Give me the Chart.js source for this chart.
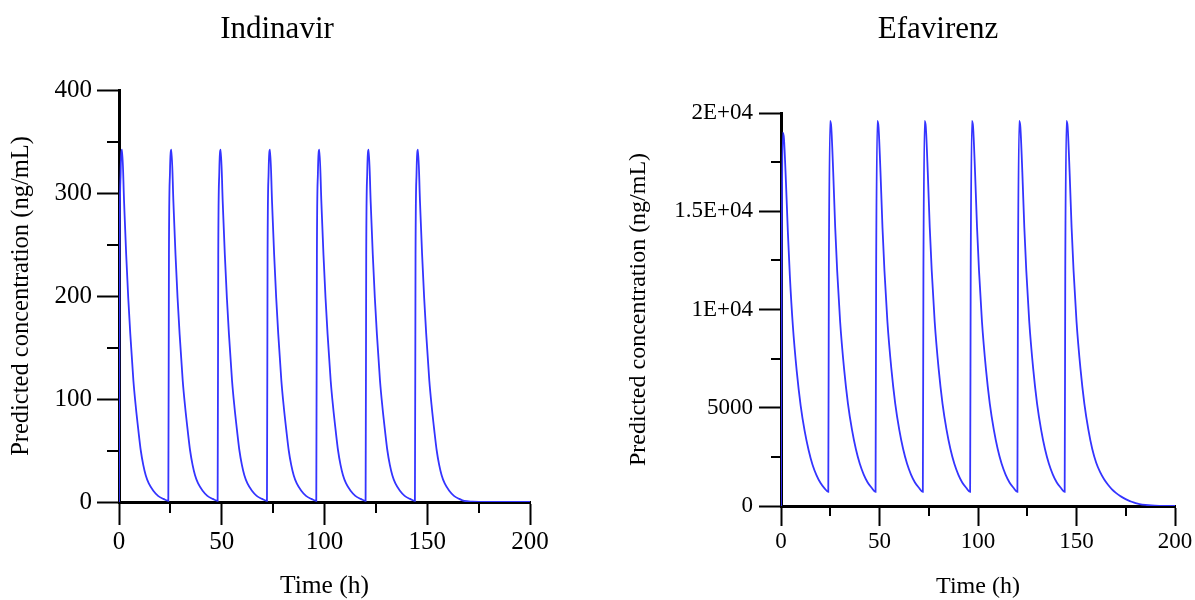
<!DOCTYPE html>
<html>
<head>
<meta charset="utf-8">
<script src="https://cdn.jsdelivr.net/npm/chart.js@4"></script>
<style>
  html, body { margin: 0; padding: 0; background: #fff; overflow: hidden; }
  .panel { position: absolute; top: 0; }
</style>
</head>
<body>
<div class="panel" style="left:0px"><canvas id="indinavir" width="554" height="600"></canvas></div>
<div class="panel" style="left:620px"><canvas id="efavirenz" width="575" height="600"></canvas></div>
<script>
const FONT = "'Liberation Serif', 'Times New Roman', serif";

// time axis (h), shared by both panels
const xTicks = [0, 50, 100, 150, 200];
const xMinor = [25, 75, 125, 175];

// Indinavir (ng/mL)
const indinavirTicks = [0, 100, 200, 300, 400];
const indinavirMinor = [50, 150, 250, 350];
const indinavirTime = [
  0, 0.3, 0.8, 1.5, 2.5, 3.5, 4.5, 5.5, 7, 8.2, 9.4, 10.6, 11.8, 13, 14.5, 16.7, 19, 21.6,
  24, 24.3, 24.8, 25.5, 26.5, 27.5, 28.5, 29.5, 31, 32.2, 33.4, 34.6, 35.8, 37, 38.5, 40.7, 43, 45.6,
  48, 48.3, 48.8, 49.5, 50.5, 51.5, 52.5, 53.5, 55, 56.2, 57.4, 58.6, 59.8, 61, 62.5, 64.7, 67, 69.6,
  72, 72.3, 72.8, 73.5, 74.5, 75.5, 76.5, 77.5, 79, 80.2, 81.4, 82.6, 83.8, 85, 86.5, 88.7, 91, 93.6,
  96, 96.3, 96.8, 97.5, 98.5, 99.5, 100.5, 101.5, 103, 104.2, 105.4, 106.6, 107.8, 109, 110.5, 112.7, 115, 117.6,
  120, 120.3, 120.8, 121.5, 122.5, 123.5, 124.5, 125.5, 127, 128.2, 129.4, 130.6, 131.8, 133, 134.5, 136.7, 139, 141.6,
  144, 144.3, 144.8, 145.5, 146.5, 147.5, 148.5, 149.5, 151, 152.2, 153.4, 154.6, 155.8, 157, 158.5, 160.7, 163, 165.6,
  168, 172, 180, 200
];
const indinavirConc = [
  0, 240, 320, 342, 290, 240, 198, 163, 118, 92, 70, 50, 36, 26, 18, 11, 6, 3,
  1, 240, 320, 342, 290, 240, 198, 163, 118, 92, 70, 50, 36, 26, 18, 11, 6, 3,
  1, 240, 320, 342, 290, 240, 198, 163, 118, 92, 70, 50, 36, 26, 18, 11, 6, 3,
  1, 240, 320, 342, 290, 240, 198, 163, 118, 92, 70, 50, 36, 26, 18, 11, 6, 3,
  1, 240, 320, 342, 290, 240, 198, 163, 118, 92, 70, 50, 36, 26, 18, 11, 6, 3,
  1, 240, 320, 342, 290, 240, 198, 163, 118, 92, 70, 50, 36, 26, 18, 11, 6, 3,
  1, 240, 320, 342, 290, 240, 198, 163, 118, 92, 70, 50, 36, 26, 18, 11, 6, 3,
  1, 0.4, 0.1, 0
];

// Efavirenz (ng/mL)
const efavirenzTicks = [0, 5000, 10000, 15000, 20000];
const efavirenzLabels = ['0', '5000', '1E+04', '1.5E+04', '2E+04'];
const efavirenzMinor = [2500, 7500, 12500, 17500];
const efavirenzTime = [
  0, 0.3, 0.9, 1.5, 2.5, 3.5, 4.5, 6, 8, 10, 12, 14, 16, 18, 20, 22,
  24, 24.3, 24.9, 25.5, 26.5, 27.5, 28.5, 30, 32, 34, 36, 38, 40, 42, 44, 46,
  48, 48.3, 48.9, 49.5, 50.5, 51.5, 52.5, 54, 56, 58, 60, 62, 64, 66, 68, 70,
  72, 72.3, 72.9, 73.5, 74.5, 75.5, 76.5, 78, 80, 82, 84, 86, 88, 90, 92, 94,
  96, 96.3, 96.9, 97.5, 98.5, 99.5, 100.5, 102, 104, 106, 108, 110, 112, 114, 116, 118,
  120, 120.3, 120.9, 121.5, 122.5, 123.5, 124.5, 126, 128, 130, 132, 134, 136, 138, 140, 142,
  144, 144.3, 144.9, 145.5, 146.5, 147.5, 148.5, 150, 152, 154, 156, 158, 160, 162, 164, 166,
  168, 170, 172, 174, 176, 178, 180, 182, 185, 188, 192, 200
];
const efavirenzConc = [
  0, 11500, 19000, 18700, 16500, 13900, 11700, 9200, 6850, 5100, 3820, 2850, 2100, 1570, 1180, 910,
  720, 12000, 19600, 19300, 17000, 14200, 12000, 9400, 7000, 5200, 3900, 2900, 2150, 1600, 1200, 930,
  720, 12000, 19600, 19300, 17000, 14200, 12000, 9400, 7000, 5200, 3900, 2900, 2150, 1600, 1200, 930,
  720, 12000, 19600, 19300, 17000, 14200, 12000, 9400, 7000, 5200, 3900, 2900, 2150, 1600, 1200, 930,
  720, 12000, 19600, 19300, 17000, 14200, 12000, 9400, 7000, 5200, 3900, 2900, 2150, 1600, 1200, 930,
  720, 12000, 19600, 19300, 17000, 14200, 12000, 9400, 7000, 5200, 3900, 2900, 2150, 1600, 1200, 930,
  720, 12000, 19600, 19300, 17000, 14200, 12000, 9400, 7000, 5200, 3900, 2900, 2200, 1720, 1360, 1080,
  850, 670, 520, 400, 300, 215, 150, 100, 55, 27, 10, 1
];

// short unlabelled ticks between the major ones
const minorTicks = {
  id: 'minorTicks',
  afterDraw(chart, args, opts) {
    const { ctx, chartArea: a, scales: { x, y } } = chart;
    ctx.save();
    ctx.strokeStyle = '#000';
    ctx.lineWidth = 2;
    ctx.beginPath();
    opts.x.forEach(v => {
      const px = Math.round(x.getPixelForValue(v));
      ctx.moveTo(px, a.bottom);
      ctx.lineTo(px, a.bottom + opts.xLen);
    });
    opts.y.forEach(v => {
      const py = Math.round(y.getPixelForValue(v));
      ctx.moveTo(a.left, py);
      ctx.lineTo(a.left - opts.yLen, py);
    });
    ctx.stroke();
    ctx.restore();
  }
};

// panel heading, centred over plot + tick labels rather than the canvas
const panelTitle = {
  id: 'panelTitle',
  afterDraw(chart, args, opts) {
    const ctx = chart.ctx;
    ctx.save();
    ctx.font = `${opts.size}px ${FONT}`;
    ctx.fillStyle = '#000';
    ctx.textAlign = 'center';
    ctx.textBaseline = 'middle';
    ctx.fillText(opts.text, opts.x, opts.y);
    ctx.restore();
  }
};

function makeChart(id, cfg) {
  const pts = cfg.time.map((t, i) => ({ x: t, y: cfg.conc[i] }));
  return new Chart(document.getElementById(id), {
    type: 'line',
    data: {
      datasets: [{
        data: pts,
        borderColor: '#3434ff',
        borderWidth: 1.8,
        pointRadius: 0,
        fill: false,
        cubicInterpolationMode: 'monotone'
      }]
    },
    options: {
      responsive: false,
      animation: false,
      layout: { padding: { left: 0, right: cfg.padRight, top: cfg.padTop, bottom: 0 } },
      plugins: {
        legend: { display: false },
        tooltip: { enabled: false },
        title: { display: false },
        panelTitle: { text: cfg.title, x: cfg.titleX, y: 30, size: 31 },
        minorTicks: { x: xMinor, y: cfg.minor, xLen: cfg.xMinorLen, yLen: cfg.yMinorLen }
      },
      scales: {
        x: {
          type: 'linear',
          min: 0, max: 200,
          afterBuildTicks: s => { s.ticks = xTicks.map(v => ({ value: v })); },
          afterFit: s => { s.height = cfg.xHeight; },
          ticks: { color: '#000', font: { family: FONT, size: cfg.tickSize }, padding: 2, maxRotation: 0 },
          grid: { drawOnChartArea: false, drawTicks: true, tickLength: cfg.xTickLen, tickColor: '#000', tickWidth: 2 },
          border: { color: '#000', width: 3 },
          title: {
            display: true, text: 'Time (h)', color: '#000',
            font: { family: FONT, size: cfg.xTitleSize, lineHeight: 1 },
            padding: { top: 0, bottom: 1 }
          }
        },
        y: {
          type: 'linear',
          min: cfg.ticks[0], max: cfg.ticks[cfg.ticks.length - 1],
          afterBuildTicks: s => { s.ticks = cfg.ticks.map(v => ({ value: v })); },
          afterFit: s => { s.width = cfg.yWidth; },
          ticks: {
            color: '#000', font: { family: FONT, size: cfg.tickSize }, padding: cfg.yPad,
            callback: (v, i) => cfg.labels ? cfg.labels[i] : String(v)
          },
          grid: { drawOnChartArea: false, drawTicks: true, tickLength: 22, tickColor: '#000', tickWidth: 2 },
          border: { color: '#000', width: 3 },
          title: {
            display: true, text: 'Predicted concentration (ng/mL)', color: '#000',
            font: { family: FONT, size: cfg.yTitleSize, lineHeight: 1.2 },
            padding: { top: cfg.yTitlePad, bottom: 0 }
          }
        }
      }
    },
    plugins: [minorTicks, panelTitle]
  });
}

makeChart('indinavir', {
  title: 'Indinavir', titleX: 277, time: indinavirTime, conc: indinavirConc,
  ticks: indinavirTicks, minor: indinavirMinor, labels: null,
  padRight: 24, padTop: 90, xHeight: 98, yWidth: 119,
  tickSize: 25, xTitleSize: 25.5, yTitleSize: 24.5,
  xTickLen: 23, xMinorLen: 11, yMinorLen: 12, yPad: 5, yTitlePad: 7
});

makeChart('efavirenz', {
  title: 'Efavirenz', titleX: 318, time: efavirenzTime, conc: efavirenzConc,
  ticks: efavirenzTicks, minor: efavirenzMinor, labels: efavirenzLabels,
  padRight: 20, padTop: 113, xHeight: 94, yWidth: 161,
  tickSize: 23, xTitleSize: 24, yTitleSize: 24,
  xTickLen: 20, xMinorLen: 10, yMinorLen: 10, yPad: 6, yTitlePad: 4
});
</script>
</body>
</html>
